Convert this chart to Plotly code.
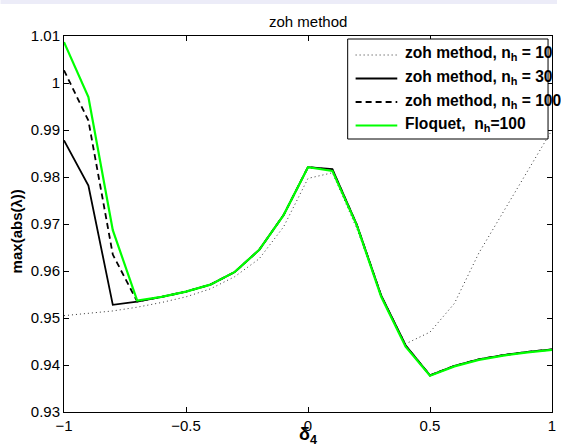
import plotly.graph_objects as go

# ---- data ----
delta4 = [-1.0, -0.9, -0.8, -0.7, -0.6, -0.5, -0.4, -0.3, -0.2, -0.1, 0.0,
          0.1, 0.2, 0.3, 0.4, 0.5, 0.6, 0.7, 0.8, 0.9, 1.0]
zoh_nh10 = [0.9505, 0.9510, 0.9515, 0.9523, 0.9533, 0.9545, 0.9562, 0.9588, 0.9626, 0.9694, 0.9797,
            0.9809, 0.9690, 0.9548, 0.9445, 0.9470, 0.9531, 0.9638, 0.9725, 0.9810, 0.9900]
zoh_nh30 = [0.9878, 0.9782, 0.9528, 0.9535, 0.9545, 0.9556, 0.9571, 0.9598, 0.9645, 0.9719, 0.9821,
            0.9817, 0.9699, 0.9548, 0.9442, 0.9378, 0.9398, 0.9412, 0.9421, 0.9428, 0.9433]
zoh_nh100 = [1.0027, 0.9920, 0.9635, 0.9535, 0.9545, 0.9556, 0.9571, 0.9598, 0.9645, 0.9719, 0.9821,
             0.9815, 0.9698, 0.9547, 0.9441, 0.9378, 0.9398, 0.9412, 0.9421, 0.9428, 0.9433]
floquet_nh100 = [1.0087, 0.9970, 0.9687, 0.9537, 0.9545, 0.9556, 0.9571, 0.9598, 0.9645, 0.9719, 0.9821,
                 0.9813, 0.9697, 0.9545, 0.9439, 0.9377, 0.9397, 0.9411, 0.9420, 0.9427, 0.9432]

x_tickvals = [-1, -0.5, 0, 0.5, 1]
x_ticktext = ["\u22121", "\u22120.5", "0", "0.5", "1"]
y_tickvals = [0.93, 0.94, 0.95, 0.96, 0.97, 0.98, 0.99, 1.0, 1.01]
y_ticktext = ["0.93", "0.94", "0.95", "0.96", "0.97", "0.98", "0.99", "1", "1.01"]

legend_labels = ["zoh method, n<sub>h</sub> = 10", "zoh method, n<sub>h</sub> = 30",
                 "zoh method, n<sub>h</sub> = 100", "Floquet,  n<sub>h</sub>=100"]

FONT = "Liberation Sans, Arial, Helvetica, sans-serif"

styles = [
    dict(color="#333333", width=1.0, dash="1px,3px"),
    dict(color="black", width=1.8, dash="solid"),
    dict(color="black", width=1.8, dash="6px,4px"),
    dict(color="#00ff00", width=2.2, dash="solid"),
]
series = [zoh_nh10, zoh_nh30, zoh_nh100, floquet_nh100]

fig = go.Figure()
for ys, st, name in zip(series, styles, legend_labels):
    fig.add_trace(go.Scatter(x=delta4, y=ys, mode="lines", line=st, name=name,
                             showlegend=False))

W, H = 561, 448
ml, mr, mt, mb = 64, 5, 36, 36
pw, ph = W - ml - mr, H - mt - mb

def px(xp):
    return (xp - ml) / pw

def py(yp):
    return (H - mb - yp) / ph

shapes = []
annotations = []
# top band
shapes.append(dict(type="rect", xref="paper", yref="paper", x0=px(0), x1=px(W),
                   y0=py(4), y1=py(0), fillcolor="#ececf8", line=dict(width=0), layer="above"))
# legend box
shapes.append(dict(type="rect", xref="paper", yref="paper", x0=px(350), x1=px(552),
                   y0=py(139), y1=py(39), fillcolor="white",
                   line=dict(color="black", width=1), layer="above"))
row_y = [55, 78.5, 102, 125.5]
for ry, st, lab in zip(row_y, styles, legend_labels):
    shapes.append(dict(type="line", xref="paper", yref="paper", x0=px(358), x1=px(400),
                       y0=py(ry), y1=py(ry), line=st, layer="above"))
    annotations.append(dict(xref="paper", yref="paper", x=px(406), y=py(ry - 1), text="<b>" + lab + "</b>",
                            showarrow=False, xanchor="left", yanchor="middle",
                            font=dict(family=FONT, size=15.6, color="black")))

# title
annotations.append(dict(xref="paper", yref="paper", x=0.5, y=py(21.5), text="zoh method",
                        showarrow=False, xanchor="center", yanchor="middle",
                        font=dict(family=FONT, size=15, color="black")))
# x label
annotations.append(dict(xref="paper", yref="paper", x=px(310), y=py(422), text="<b>\u03b4<sub>4</sub></b>",
                        showarrow=False, xanchor="center", yanchor="top",
                        font=dict(family=FONT, size=18, color="black")))
# y label
annotations.append(dict(xref="paper", yref="paper", x=px(17), y=py(231), text="<b>max(abs(\u03bb))</b>",
                        showarrow=False, xanchor="center", yanchor="middle", textangle=-90,
                        font=dict(family=FONT, size=15, color="black")))

fig.update_layout(
    width=W, height=H,
    margin=dict(l=ml, r=mr, t=mt, b=mb),
    paper_bgcolor="white", plot_bgcolor="white",
    showlegend=False,
    shapes=shapes, annotations=annotations,
    font=dict(family=FONT, size=15, color="black"),
)
fig.update_xaxes(range=[-1, 1], tickvals=x_tickvals, ticktext=x_ticktext,
                 ticks="inside", ticklen=5, tickcolor="black", showline=True, linecolor="black",
                 linewidth=1, mirror="ticks", showgrid=False, zeroline=False,
                 tickfont=dict(family=FONT, size=15, color="black"))
fig.update_yaxes(range=[0.93, 1.01], tickvals=y_tickvals, ticktext=y_ticktext,
                 ticks="inside", ticklen=5, tickcolor="black", showline=True, linecolor="black",
                 linewidth=1, mirror="ticks", showgrid=False, zeroline=False,
                 tickfont=dict(family=FONT, size=15, color="black"))

fig.write_html("out.html")
